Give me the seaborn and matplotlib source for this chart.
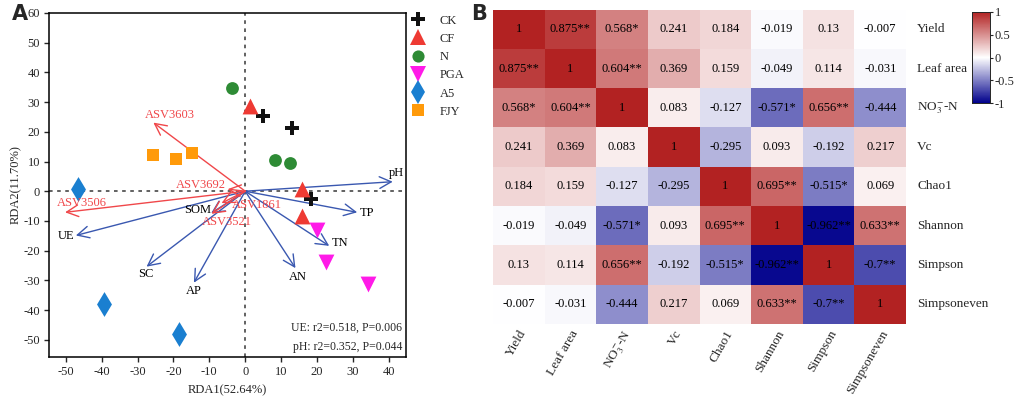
import numpy as np
import pandas as pd
import matplotlib
matplotlib.use("Agg")
import matplotlib.pyplot as plt
import seaborn as sns
from matplotlib.colors import LinearSegmentedColormap
from matplotlib.lines import Line2D

# ---------------- data: panel A ----------------
groups = ["CK", "CF", "N", "PGA", "A5", "FJY"]
ck_x = [4.9, 12.9, 18.2]
ck_y = [25.2, 21.3, -2.7]
cf_x = [1.3, 15.8, 15.8]
cf_y = [28.7, 0.9, -8.5]
n_x = [-3.6, 8.4, 12.5]
n_y = [34.7, 10.4, 9.5]
pga_x = [20.1, 22.5, 34.1]
pga_y = [-13.0, -23.7, -31.3]
a5_x = [-46.7, -39.3, -18.5]
a5_y = [0.9, -37.9, -48.1]
fjy_x = [-25.7, -19.3, -14.7]
fjy_y = [12.2, 10.9, 13.0]

env_names = ["pH", "TP", "TN", "AN", "AP", "SC", "UE", "SOM"]
env_x = [41.1, 31.2, 23.4, 14.0, -14.3, -27.5, -47.2, -9.5]
env_y = [3.2, -7.1, -18.4, -25.9, -30.8, -25.4, -14.9, -7.4]

asv_names = ["ASV3603", "ASV3692", "ASV3506", "ASV1861", "ASV3521"]
asv_x = [-25.6, -4.9, -50.2, -6.6, -9.4]
asv_y = [23.1, 0.7, -7.1, -4.0, -7.6]

stats_text = ["UE: r2=0.518, P=0.006", "pH: r2=0.352, P=0.044"]

# ---------------- data: panel B ----------------
vars_ = ["Yield", "Leaf area", "NO$_3^{-}$-N", "Vc", "Chao1", "Shannon", "Simpson", "Simpsoneven"]
r_yield = [1, 0.875, 0.568, 0.241, 0.184, -0.019, 0.13, -0.007]
r_leaf = [0.875, 1, 0.604, 0.369, 0.159, -0.049, 0.114, -0.031]
r_no3 = [0.568, 0.604, 1, 0.083, -0.127, -0.571, 0.656, -0.444]
r_vc = [0.241, 0.369, 0.083, 1, -0.295, 0.093, -0.192, 0.217]
r_chao = [0.184, 0.159, -0.127, -0.295, 1, 0.695, -0.515, 0.069]
r_shannon = [-0.019, -0.049, -0.571, 0.093, 0.695, 1, -0.962, 0.633]
r_simpson = [0.13, 0.114, 0.656, -0.192, -0.515, -0.962, 1, -0.7]
r_simpeven = [-0.007, -0.031, -0.444, 0.217, 0.069, 0.633, -0.7, 1]
sig_yield = ["", "**", "*", "", "", "", "", ""]
sig_leaf = ["**", "", "**", "", "", "", "", ""]
sig_no3 = ["*", "**", "", "", "", "*", "**", ""]
sig_vc = ["", "", "", "", "", "", "", ""]
sig_chao = ["", "", "", "", "", "**", "*", ""]
sig_shannon = ["", "", "*", "", "**", "", "**", "**"]
sig_simpson = ["", "", "**", "", "*", "**", "", "**"]
sig_simpeven = ["", "", "", "", "", "**", "**", ""]
cbar_ticks = [-1, -0.5, 0, 0.5, 1]
cbar_labels = ["-1", "-0.5", "0", "0.5", "1"]

# ---------------- style ----------------
sns.set_theme(style="white")
plt.rcParams["font.family"] = ["Liberation Serif", "DejaVu Serif"]
plt.rcParams["mathtext.fontset"] = "stix"
plt.rcParams["axes.unicode_minus"] = False

fig = plt.figure(figsize=(10.2, 3.98), dpi=100)

# ---------------- panel A ----------------
axA = fig.add_axes([0.0483, 0.1038, 0.3494, 0.8636])
rows = []
for g, xs, ys in zip(groups, [ck_x, cf_x, n_x, pga_x, a5_x, fjy_x],
                     [ck_y, cf_y, n_y, pga_y, a5_y, fjy_y]):
    for x, y in zip(xs, ys):
        rows.append({"group": g, "x": x, "y": y})
df = pd.DataFrame(rows)
palette = {"CK": "#111111", "CF": "#EE3A33", "N": "#2E8B35", "PGA": "#FF1AE8",
           "A5": "#1A7FD0", "FJY": "#FF9A0A"}
markers = {"CK": "P", "CF": "^", "N": "o", "PGA": "v", "A5": "d", "FJY": "s"}
sizes = {"CK": 110, "CF": 130, "N": 85, "PGA": 130, "A5": 160, "FJY": 85}
for g in groups:
    sub = df[df.group == g]
    sns.scatterplot(data=sub, x="x", y="y", color=palette[g], marker=markers[g],
                    s=sizes[g], linewidth=0, ax=axA, legend=False, zorder=3)

axA.axhline(0, color="#555555", ls=(0, (2, 2.5)), lw=1.3, zorder=1)
axA.axvline(0, color="#555555", ls=(0, (2, 2.5)), lw=1.3, zorder=1)

blue = "#3A58B0"
red = "#F0474A"
for nm, x, y in zip(env_names, env_x, env_y):
    axA.annotate("", xy=(x, y), xytext=(0, 0),
                 arrowprops=dict(arrowstyle="->,head_length=0.7,head_width=0.35",
                                 color=blue, lw=1.0, shrinkA=0, shrinkB=0), zorder=2)
for nm, x, y in zip(asv_names, asv_x, asv_y):
    axA.annotate("", xy=(x, y), xytext=(0, 0),
                 arrowprops=dict(arrowstyle="->,head_length=0.7,head_width=0.35",
                                 color=red, lw=1.0, shrinkA=0, shrinkB=0), zorder=2)

env_lab = {"pH": (42.0, 6.2, "center"), "TP": (34.0, -7.2, "center"),
           "TN": (26.5, -17.3, "center"), "AN": (14.6, -28.8, "center"),
           "AP": (-14.3, -33.6, "center"), "SC": (-27.7, -27.8, "center"),
           "UE": (-50.0, -15.2, "center"), "SOM": (-13.3, -6.2, "center")}
for nm in env_names:
    lx, ly, ha = env_lab[nm]
    axA.text(lx, ly, nm, ha=ha, va="center", fontsize=9, color="black", zorder=4)
asv_lab = {"ASV3603": (-21.0, 25.8, "center"), "ASV3692": (-5.5, 2.2, "right"),
           "ASV3506": (-45.5, -4.0, "center"), "ASV1861": (-3.8, -4.6, "left"),
           "ASV3521": (-5.2, -10.5, "center")}
for nm in asv_names:
    lx, ly, ha = asv_lab[nm]
    axA.text(lx, ly, nm, ha=ha, va="center", fontsize=9, color=red, zorder=4)

axA.text(43.8, -46.0, stats_text[0], ha="right", va="center", fontsize=8.5)
axA.text(43.8, -52.3, stats_text[1], ha="right", va="center", fontsize=8.5)

axA.set_xlim(-54.6, 44.7)
axA.set_ylim(-55.7, 60)
axA.set_xticks(np.arange(-50, 41, 10))
axA.set_yticks(np.arange(-50, 61, 10))
axA.tick_params(axis="both", direction="out", length=3.5, width=1, labelsize=9,
                bottom=True, left=True, pad=3)
for sp in axA.spines.values():
    sp.set_color("black")
    sp.set_linewidth(1.1)
axA.set_xlabel("RDA1(52.64%)", fontsize=9, labelpad=5)
axA.set_ylabel("RDA2(11.70%)", fontsize=9, labelpad=1)

handles = [Line2D([0], [0], marker=markers[g], color="none", markerfacecolor=palette[g],
                  markeredgewidth=0, markersize=np.sqrt(sizes[g]) * 0.95, label=g)
           for g in groups]
fig.legend(handles=handles, loc="upper left", bbox_to_anchor=(0.398, 0.976),
           frameon=False, fontsize=9, handletextpad=1.1, labelspacing=0.5,
           handlelength=1.2, borderaxespad=0)

fig.text(0.012, 0.965, "A", fontsize=15, fontweight="bold", family="DejaVu Sans",
         ha="left", va="center")
fig.text(0.462, 0.965, "B", fontsize=15, fontweight="bold", family="DejaVu Sans",
         ha="left", va="center")

# ---------------- panel B ----------------
mat = np.array([r_yield, r_leaf, r_no3, r_vc, r_chao, r_shannon, r_simpson, r_simpeven])
sig = [sig_yield, sig_leaf, sig_no3, sig_vc, sig_chao, sig_shannon, sig_simpson, sig_simpeven]
annot = np.array([[f"{mat[i, j]:g}{sig[i][j]}" for j in range(8)] for i in range(8)])
cmap = LinearSegmentedColormap.from_list("rb", ["#00008B", "#FFFFFF", "#B22222"])

axB = fig.add_axes([0.4833, 0.186, 0.405, 0.790])
axC = fig.add_axes([0.953, 0.741, 0.0176, 0.229])
sns.heatmap(mat, ax=axB, cmap=cmap, vmin=-1, vmax=1, annot=annot, fmt="",
            annot_kws={"color": "black", "fontsize": 9}, cbar_ax=axC,
            xticklabels=vars_, yticklabels=vars_, linewidths=0)
axB.yaxis.tick_right()
axB.tick_params(axis="y", length=0, labelsize=9.5, pad=8, labelrotation=0)
axB.tick_params(axis="x", length=0, labelsize=9.5, pad=3)
for lab in axB.get_yticklabels():
    lab.set_ha("left")
    lab.set_va("center")
for lab in axB.get_xticklabels():
    lab.set_rotation(60)
    lab.set_ha("right")
    lab.set_rotation_mode("anchor")

axC.set_yticks(cbar_ticks)
axC.set_yticklabels(cbar_labels)
axC.tick_params(axis="y", length=2.5, width=0.8, labelsize=9, pad=1)
for sp in axC.spines.values():
    sp.set_visible(True)
    sp.set_linewidth(0.6)

fig.savefig("out.png", dpi=100)
